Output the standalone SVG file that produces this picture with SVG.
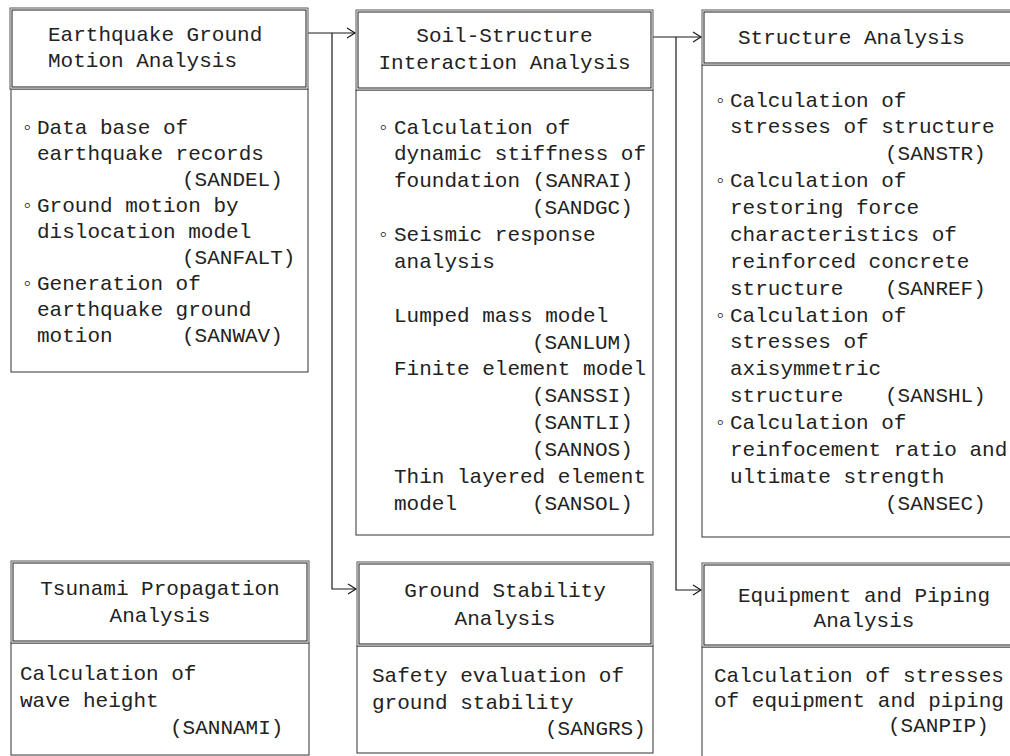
<svg xmlns="http://www.w3.org/2000/svg" width="1010" height="756" viewBox="0 0 1010 756">
<style>
  text { font-family: "Liberation Mono", "DejaVu Sans Mono", monospace; font-size: 21px; fill: #222; }
  .c { text-anchor: middle; }
  .hdo { fill: #ffffff; stroke: #555; stroke-width: 1; }
  .hdi { fill: none; stroke: #1a1a1a; stroke-width: 1; }
  .body { fill: #ffffff; stroke: #333; stroke-width: 1; }
  .conn { fill: none; stroke: #1a1a1a; stroke-width: 1.2; }
</style>
<defs>
  <marker id="arr" markerUnits="userSpaceOnUse" markerWidth="12" markerHeight="12" refX="10" refY="6" orient="auto">
    <path d="M2,1 L10,6 L2,11" fill="none" stroke="#1a1a1a" stroke-width="1.2"/>
  </marker>
</defs>
<rect width="1010" height="756" fill="#ffffff"/>

<g id="connectors">
  <path class="conn" d="M308,33 H355" marker-end="url(#arr)"/>
  <path class="conn" d="M332,33 V589 H356" marker-end="url(#arr)"/>
  <path class="conn" d="M653,37 H701" marker-end="url(#arr)"/>
  <path class="conn" d="M676,37 V590 H701" marker-end="url(#arr)"/>
</g>

<g id="earthquake">
  <rect class="body" x="11" y="89" width="297" height="283"/>
  <rect class="hdo" x="10" y="8" width="298" height="81"/>
  <rect class="hdi" x="12" y="10" width="294" height="77"/>
  <text x="48" y="41">Earthquake Ground</text>
  <text x="48" y="67">Motion Analysis</text>
  <text x="21" y="133.5">◦</text><text x="37" y="133.5">Data base of</text>
  <text x="37" y="159.5">earthquake records</text>
  <text x="182" y="185.5">(SANDEL)</text>
  <text x="21" y="211.5">◦</text><text x="37" y="211.5">Ground motion by</text>
  <text x="37" y="237.5">dislocation model</text>
  <text x="182" y="263.5">(SANFALT)</text>
  <text x="21" y="289.5">◦</text><text x="37" y="289.5">Generation of</text>
  <text x="37" y="315.5">earthquake ground</text>
  <text x="37" y="341.5">motion</text><text x="182" y="341.5">(SANWAV)</text>
</g>

<g id="soil">
  <rect class="body" x="356" y="90" width="297" height="445"/>
  <rect class="hdo" x="356" y="10" width="297" height="80"/>
  <rect class="hdi" x="358" y="12" width="293" height="76"/>
  <text class="c" x="504.5" y="42">Soil-Structure</text>
  <text class="c" x="504.5" y="69">Interaction Analysis</text>
  <text x="377" y="133.5">◦</text><text x="394" y="133.5">Calculation of</text>
  <text x="394" y="160.4">dynamic stiffness of</text>
  <text x="394" y="187.2">foundation (SANRAI)</text>
  <text x="532" y="214.1">(SANDGC)</text>
  <text x="377" y="241">◦</text><text x="394" y="241">Seismic response</text>
  <text x="394" y="267.9">analysis</text>
  <text x="394" y="321.6">Lumped mass model</text>
  <text x="532" y="348.5">(SANLUM)</text>
  <text x="394" y="375.3">Finite element model</text>
  <text x="532" y="402.2">(SANSSI)</text>
  <text x="532" y="429.1">(SANTLI)</text>
  <text x="532" y="455.9">(SANNOS)</text>
  <text x="394" y="482.8">Thin layered element</text>
  <text x="394" y="509.7">model</text><text x="532" y="509.7">(SANSOL)</text>
</g>

<g id="structure">
  <rect class="body" x="702" y="65" width="330" height="472"/>
  <rect class="hdo" x="702" y="10" width="330" height="55"/>
  <rect class="hdi" x="704" y="12" width="326" height="51"/>
  <text x="738" y="44">Structure Analysis</text>
  <text x="714" y="106.5">◦</text><text x="730" y="106.5">Calculation of</text>
  <text x="730" y="133.4">stresses of structure</text>
  <text x="885" y="160.2">(SANSTR)</text>
  <text x="714" y="187.1">◦</text><text x="730" y="187.1">Calculation of</text>
  <text x="730" y="214">restoring force</text>
  <text x="730" y="240.9">characteristics of</text>
  <text x="730" y="267.7">reinforced concrete</text>
  <text x="730" y="294.6">structure</text><text x="885" y="294.6">(SANREF)</text>
  <text x="714" y="321.5">◦</text><text x="730" y="321.5">Calculation of</text>
  <text x="730" y="348.3">stresses of</text>
  <text x="730" y="375.2">axisymmetric</text>
  <text x="730" y="402.1">structure</text><text x="885" y="402.1">(SANSHL)</text>
  <text x="714" y="428.9">◦</text><text x="730" y="428.9">Calculation of</text>
  <text x="730" y="455.8">reinfocement ratio and</text>
  <text x="730" y="482.7">ultimate strength</text>
  <text x="885" y="509.6">(SANSEC)</text>
</g>

<g id="tsunami">
  <rect class="body" x="11" y="643" width="298" height="112"/>
  <rect class="hdo" x="11" y="561" width="298" height="82"/>
  <rect class="hdi" x="13" y="563" width="294" height="78"/>
  <text class="c" x="160" y="595">Tsunami Propagation</text>
  <text class="c" x="160" y="622">Analysis</text>
  <text x="20" y="680">Calculation of</text>
  <text x="20" y="707">wave height</text>
  <text x="170" y="734">(SANNAMI)</text>
</g>

<g id="ground">
  <rect class="body" x="357" y="646" width="296" height="107"/>
  <rect class="hdo" x="357" y="562" width="296" height="84"/>
  <rect class="hdi" x="359" y="564" width="292" height="80"/>
  <text class="c" x="505" y="597">Ground Stability</text>
  <text class="c" x="505" y="625">Analysis</text>
  <text x="372" y="682">Safety evaluation of</text>
  <text x="372" y="709">ground stability</text>
  <text x="545" y="735">(SANGRS)</text>
</g>

<g id="equipment">
  <rect class="body" x="702" y="647" width="330" height="120"/>
  <rect class="hdo" x="702" y="563" width="330" height="84"/>
  <rect class="hdi" x="704" y="565" width="326" height="80"/>
  <text class="c" x="864" y="602">Equipment and Piping</text>
  <text class="c" x="864" y="627">Analysis</text>
  <text x="714" y="682">Calculation of stresses</text>
  <text x="714" y="707">of equipment and piping</text>
  <text x="888" y="732">(SANPIP)</text>
</g>
</svg>
